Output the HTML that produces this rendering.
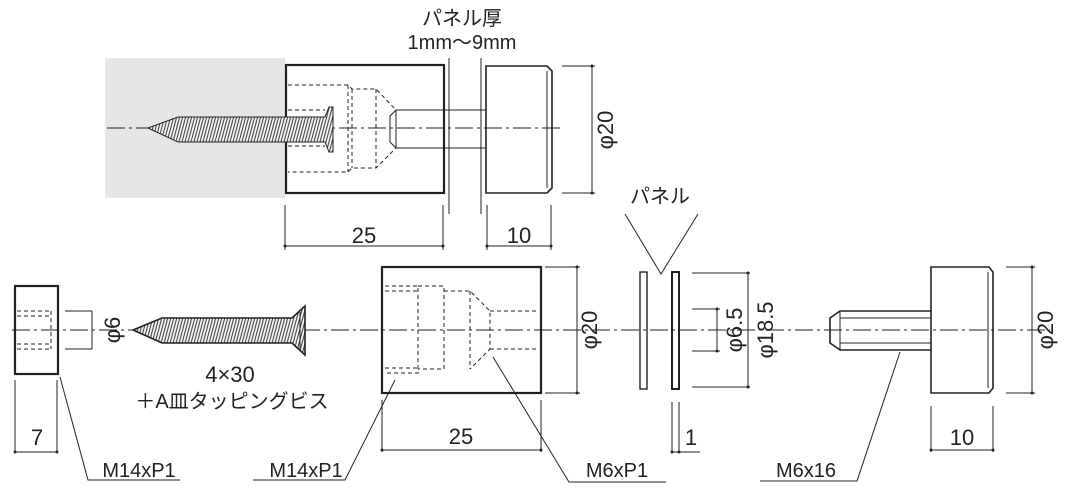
<!DOCTYPE html>
<html><head><meta charset="utf-8"><style>
html,body{margin:0;padding:0;background:#fff}
svg{display:block}
text{font-family:"Liberation Sans Narrow","Liberation Sans","Noto Sans CJK JP",sans-serif;fill:#222}
.j{font-family:"Liberation Sans","Noto Sans CJK JP",sans-serif}
</style></head><body>
<svg width="1065" height="500" viewBox="0 0 1065 500" xmlns="http://www.w3.org/2000/svg">
<defs>
<pattern id="hatch" width="3" height="6" patternUnits="userSpaceOnUse" patternTransform="skewX(-15)">
<rect width="3" height="6" fill="#fff"/><line x1="1" y1="0" x2="1" y2="6" stroke="#444" stroke-width="1.2"/></pattern>
</defs>
<g stroke="#222" fill="none" stroke-width="1">
<!-- TOP -->
<rect x="105" y="58" width="180" height="140" fill="#e6e6e6" stroke="none"/>
<line x1="107" y1="128" x2="560" y2="128" stroke-dasharray="18,4,3,4" stroke-width="0.9"/>
<rect x="286" y="65" width="158" height="128" stroke-width="2.2"/>
<polyline points="288,85 348,85 352,89 376,89 396,110 396,148 376,168 352,168 348,172 288,172" stroke-dasharray="4,3"/>
<line x1="288" y1="110" x2="325" y2="110" stroke-dasharray="4,3"/>
<line x1="288" y1="146" x2="325" y2="146" stroke-dasharray="4,3"/>
<line x1="348" y1="85" x2="348" y2="172" stroke-dasharray="4,3"/>
<line x1="352" y1="89" x2="352" y2="168" stroke-dasharray="4,3"/>
<line x1="376" y1="89" x2="376" y2="168" stroke-dasharray="4,3"/>
<polygon points="148,128 178,117 325,117 329,107 333,107 333,152 329,152 325,142 178,142" fill="url(#hatch)"/>
<polyline points="486,110 396,110 390,116 390,142 396,148 486,148"/>
<line x1="396" y1="110" x2="396" y2="148"/>
<line x1="449" y1="58" x2="449" y2="214"/><line x1="481" y1="58" x2="481" y2="214"/>
<path d="M486,66 H547 L552,71 V188 L547,193 H486 Z" stroke-width="1.6"/>
<line x1="547" y1="71" x2="547" y2="188"/>
<line x1="562" y1="66" x2="595" y2="66"/><line x1="562" y1="193" x2="595" y2="193"/>
<line x1="592" y1="66" x2="592" y2="193"/>
<line x1="285" y1="205" x2="285" y2="250"/><line x1="443" y1="205" x2="443" y2="250"/>
<line x1="285" y1="246" x2="443" y2="246"/>
<line x1="487" y1="205" x2="487" y2="250"/><line x1="551" y1="205" x2="551" y2="250"/>
<line x1="487" y1="246" x2="551" y2="246"/>
<!-- BOTTOM -->
<line x1="12" y1="330" x2="1050" y2="330" stroke-dasharray="18,4,3,4" stroke-width="0.9"/>
<rect x="15" y="286" width="43" height="88" stroke-width="2.2"/>
<line x1="17" y1="311" x2="51" y2="311" stroke-dasharray="4,3"/><line x1="17" y1="316" x2="51" y2="316" stroke-dasharray="4,3"/>
<line x1="17" y1="344" x2="51" y2="344" stroke-dasharray="4,3"/><line x1="17" y1="349" x2="51" y2="349" stroke-dasharray="4,3"/>
<line x1="51" y1="311" x2="51" y2="349" stroke-dasharray="4,3"/>
<line x1="65" y1="311" x2="92" y2="311"/><line x1="65" y1="349" x2="92" y2="349"/><line x1="92" y1="311" x2="92" y2="349"/>
<polygon points="133,330 162,318 292,318 305,306 305,355 292,343 162,343" fill="url(#hatch)" stroke-width="1.6"/>
<line x1="300" y1="312" x2="300" y2="349"/>
<rect x="382" y="267" width="159" height="126" stroke-width="2.2"/>
<polyline points="385,286 418,286 418,373 385,373" stroke-dasharray="4,3"/>
<line x1="385" y1="291" x2="418" y2="291" stroke-dasharray="4,3"/><line x1="385" y1="368" x2="418" y2="368" stroke-dasharray="4,3"/>
<polyline points="418,286 444,286 444,369 418,369" stroke-dasharray="4,3"/>
<polyline points="444,291 470,291 490,311 490,349 470,369" stroke-dasharray="4,3"/>
<line x1="470" y1="291" x2="470" y2="369" stroke-dasharray="4,3"/>
<line x1="490" y1="311" x2="538" y2="311" stroke-dasharray="4,3"/><line x1="490" y1="349" x2="538" y2="349" stroke-dasharray="4,3"/>
<line x1="545" y1="267" x2="580" y2="267"/><line x1="545" y1="393" x2="580" y2="393"/><line x1="577" y1="267" x2="577" y2="393"/>
<line x1="382" y1="400" x2="382" y2="452"/><line x1="541" y1="400" x2="541" y2="452"/><line x1="382" y1="450" x2="541" y2="450"/>
<line x1="15" y1="380" x2="15" y2="452"/><line x1="57" y1="380" x2="57" y2="452"/><line x1="15" y1="452" x2="57" y2="452"/>
<!-- panel -->
<rect x="640" y="272" width="7" height="117" stroke-width="1.4"/>
<rect x="672" y="272" width="7" height="117" stroke-width="2"/>
<polyline points="625,214 661,274 698,214"/>
<line x1="692" y1="273" x2="750" y2="273"/><line x1="692" y1="387" x2="750" y2="387"/><line x1="748" y1="273" x2="748" y2="387"/>
<line x1="692" y1="309" x2="720" y2="309"/><line x1="692" y1="351" x2="720" y2="351"/><line x1="717" y1="309" x2="717" y2="351"/>
<line x1="672" y1="402" x2="672" y2="452"/><line x1="679" y1="402" x2="679" y2="452"/><line x1="672" y1="452" x2="700" y2="452"/>
<!-- bolt -->
<path d="M931,267 H989 L993,272 V388 L989,393 H931 Z" stroke-width="1.6"/>
<line x1="988" y1="272" x2="988" y2="388"/>
<path d="M931,311 H840 L830,318 V343 L840,350 H931" stroke-width="1.6"/>
<line x1="840" y1="311" x2="840" y2="350"/>
<line x1="840" y1="318" x2="931" y2="318"/><line x1="840" y1="343" x2="931" y2="343"/>
<line x1="1006" y1="267" x2="1035" y2="267"/><line x1="1006" y1="393" x2="1035" y2="393"/><line x1="1032" y1="267" x2="1032" y2="393"/>
<line x1="931" y1="406" x2="931" y2="452"/><line x1="993" y1="406" x2="993" y2="452"/><line x1="931" y1="450" x2="993" y2="450"/>
<!-- leaders -->
<polyline points="60,377 88,480 180,480"/>
<polyline points="395,380 345,480 253,480"/>
<polyline points="493,357 569,482 666,482"/>
<polyline points="900,352 857,481 760,481"/>
</g>
<g fill="#222">
<circle cx="285" cy="246" r="1.5"/><circle cx="443" cy="246" r="1.5"/><circle cx="487" cy="246" r="1.5"/><circle cx="551" cy="246" r="1.5"/>
<circle cx="592" cy="66" r="1.5"/><circle cx="592" cy="193" r="1.5"/>
<circle cx="15" cy="452" r="1.5"/><circle cx="57" cy="452" r="1.5"/><circle cx="382" cy="450" r="1.5"/><circle cx="541" cy="450" r="1.5"/>
<circle cx="577" cy="267" r="1.5"/><circle cx="577" cy="393" r="1.5"/><circle cx="748" cy="273" r="1.5"/><circle cx="748" cy="387" r="1.5"/>
<circle cx="717" cy="309" r="1.5"/><circle cx="717" cy="351" r="1.5"/><circle cx="1032" cy="267" r="1.5"/><circle cx="1032" cy="393" r="1.5"/>
<circle cx="931" cy="450" r="1.5"/><circle cx="993" cy="450" r="1.5"/><circle cx="672" cy="452" r="1.5"/><circle cx="679" cy="452" r="1.5"/>
</g>
<g font-size="22">
<text class="j" x="462" y="25" text-anchor="middle" font-size="20">パネル厚</text>
<text x="462" y="49" text-anchor="middle" font-size="20">1mm～9mm</text>
<text x="364" y="243" text-anchor="middle">25</text>
<text x="519" y="243" text-anchor="middle">10</text>
<text transform="translate(613,130) rotate(-90)" text-anchor="middle">φ20</text>
<text transform="translate(120,330) rotate(-90)" text-anchor="middle">φ6</text>
<text x="230" y="382" text-anchor="middle">4×30</text>
<text class="j" x="232" y="408" text-anchor="middle" font-size="20">＋A皿タッピングビス</text>
<text transform="translate(597,330) rotate(-90)" text-anchor="middle">φ20</text>
<text x="461" y="444" text-anchor="middle">25</text>
<text x="37" y="445" text-anchor="middle">7</text>
<text class="j" x="660" y="203" text-anchor="middle" font-size="20">パネル</text>
<text transform="translate(742,330) rotate(-90)" text-anchor="middle">φ6.5</text>
<text transform="translate(773,330) rotate(-90)" text-anchor="middle">φ18.5</text>
<text x="691" y="445" text-anchor="middle">1</text>
<text transform="translate(1053,330) rotate(-90)" text-anchor="middle">φ20</text>
<text x="962" y="445" text-anchor="middle">10</text>
<text x="139" y="477" text-anchor="middle" font-size="20">M14xP1</text>
<text x="306" y="477" text-anchor="middle" font-size="20">M14xP1</text>
<text x="617" y="477" text-anchor="middle" font-size="20">M6xP1</text>
<text x="806" y="477" text-anchor="middle" font-size="20">M6x16</text>
</g>
</svg>
</body></html>
